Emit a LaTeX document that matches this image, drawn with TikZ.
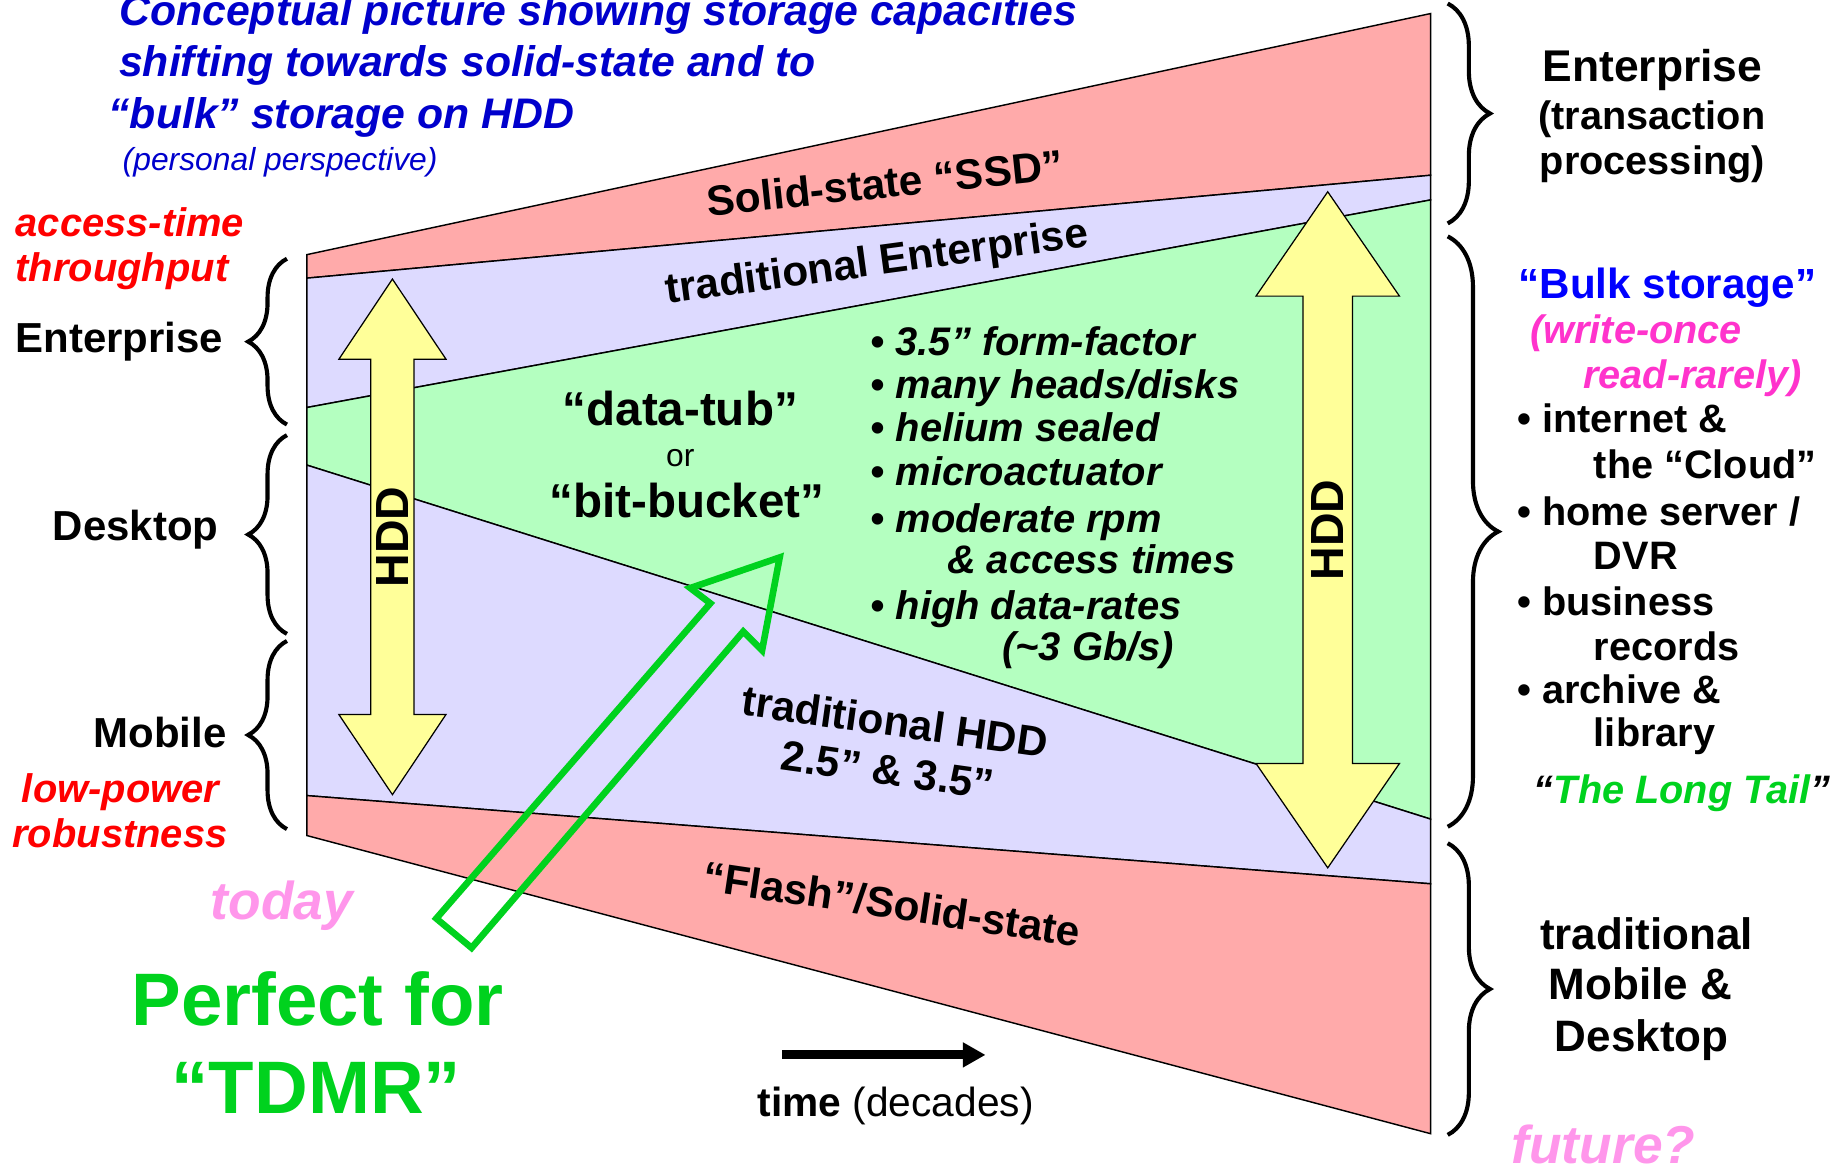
\documentclass[tikz,border=0pt]{standalone}
\usepackage{fontspec}
\setmainfont{Liberation Sans}
\usetikzlibrary{arrows.meta,decorations.pathreplacing,shapes.arrows}
\definecolor{ssdpink}{RGB}{255,170,170}
\definecolor{hddlav}{RGB}{221,218,255}
\definecolor{tubgreen}{RGB}{180,255,192}
\definecolor{hddyellow}{RGB}{255,255,153}
\definecolor{titleblue}{RGB}{0,0,204}
\definecolor{bulkblue}{RGB}{0,0,255}
\definecolor{hotred}{RGB}{255,0,0}
\definecolor{rarepink}{RGB}{255,51,204}
\definecolor{softpink}{RGB}{255,150,235}
\definecolor{tdmrgreen}{RGB}{0,210,30}
\newcommand{\fsz}[1]{\fontsize{#1}{#1}\selectfont}
\tikzset{
  band/.style={draw=black,line width=0.7pt},
  curly/.style={decorate,decoration={brace,amplitude=#1},line width=2pt},
  txt/.style={anchor=base,inner sep=0pt},
  titletxt/.style={txt,anchor=base west,text=titleblue,font=\fsz{20.7}\bfseries\itshape},
  redtxt/.style={txt,text=hotred,font=\fsz{19.3}\bfseries\itshape},
  segtxt/.style={txt,anchor=base east,font=\fsz{20.3}\bfseries},
  bandtxt/.style={txt,font=\fsz{20.5}\bfseries},
  tubtxt/.style={txt,font=\fsz{23}\bfseries},
  featuretxt/.style={txt,anchor=base west,font=\fsz{19.3}\bfseries\itshape},
  sidetxt/.style={txt,anchor=base west,font=\fsz{19.2}\bfseries},
  pinktxt/.style={txt,anchor=base west,text=softpink,font=\fsz{25.8}\bfseries\itshape},
  tdmrtxt/.style={txt,text=tdmrgreen,font=\fsz{36}\bfseries},
  hddarrow/.style={double arrow,draw=black,line width=0.6pt,fill=hddyellow,
    inner sep=1pt,font=\fsz{22.5}\bfseries},
  tdmrbox/.style={draw=tdmrgreen,line width=3.2pt,line join=miter},
  timearrow/.style={-{Triangle[length=11pt,width=11.5pt]},line width=4.4pt},
}
\begin{document}
\begin{tikzpicture}[x=0.02cm,y=-0.02cm]
\fill[white] (0,0) rectangle (1568,991);
\useasboundingbox (0,0) rectangle (1568,991);

% the storage bands, left edge = today, right edge = future
\coordinate (lt) at (261,216.5);
\coordinate (l1) at (261,236.5);
\coordinate (l2) at (261,346.5);
\coordinate (l3) at (261,395.5);
\coordinate (l4) at (261,676.5);
\coordinate (lb) at (261,710.5);
\coordinate (rt) at (1216.5,11.5);
\coordinate (r1) at (1216.5,149);
\coordinate (r2) at (1216.5,170);
\coordinate (r3) at (1216.5,696.5);
\coordinate (r4) at (1216.5,751.5);
\coordinate (rb) at (1216.5,964);
\foreach \a/\b/\c/\d/\col in {lt/rt/r1/l1/ssdpink,l1/r1/r2/l2/hddlav,l2/r2/r3/l3/tubgreen,l3/r3/r4/l4/hddlav,l4/r4/rb/lb/ssdpink}
  \filldraw[band,fill=\col] (\a) -- (\b) -- (\c) -- (\d) -- cycle;

\foreach \x/\ya/\yb/\amp in {244/361/220/0.66cm,244/539/370/0.66cm,244/705/545/0.66cm,1231/3/190/0.72cm,1231/201/703/0.86cm,1231/717/965/0.72cm}
  \draw[curly=\amp] (\x,\ya) -- (\x,\yb);

\node[hddarrow,minimum height=8.77cm,minimum width=1.82cm,double arrow head extend=0.47cm,
  double arrow tip angle=67.5,rotate=90] (hddL) at (333.7,456.5) {HDD};
\node[hddarrow,minimum height=11.5cm,minimum width=2.44cm,double arrow head extend=0.6cm,
  double arrow tip angle=69,rotate=90] (hddR) at (1129,450.5) {HDD};

\draw[tdmrbox] (371,781) -- (604,513) -- (587,500) -- (663,474) -- (648,553) -- (632,537) -- (401,806) -- cycle;

% headline
\foreach \x/\y/\t [count=\i] in {101/22/{Conceptual picture showing storage capacities},101/65/{shifting towards solid-state and to},92/109/{“bulk” storage on HDD}}
  \node[titletxt] (title\i) at (\x,\y) {\t};
\node[txt,anchor=base west,text=titleblue,font=\fsz{15.4}\itshape] (persp) at (104,145) {(personal perspective)};

% left side
\node[redtxt,anchor=base west] (acc) at (13,201) {access-time};
\node[redtxt,anchor=base west] (thru) at (13,239) {throughput};
\node[segtxt] (entL) at (190,299.5) {Enterprise};
\node[segtxt] (desk) at (186,459.5) {Desktop};
\node[segtxt] (mob) at (193,636) {Mobile};
\node[redtxt] (lowp) at (102.5,682) {low-power};
\node[redtxt] (robust) at (102,721) {robustness};
\node[pinktxt] (today) at (179,782) {today};
\node[tdmrtxt] (perfect) at (270,872) {Perfect for};
\node[tdmrtxt] (tdmrname) at (269,947) {“TDMR”};

% inside the bands
\node[bandtxt,rotate=6] (ssd) at (754,168) {Solid-state “SSD”};
\node[bandtxt,rotate=7.7] (tradent) at (747,234) {traditional Enterprise};
\node[tubtxt] (tub) at (578.5,361.5) {“data-tub”};
\node[txt,font=\fsz{15.4}] (orlbl) at (578.5,396.5) {or};
\node[tubtxt] (bucket) at (584,440) {“bit-bucket”};
\foreach \x/\y/\t [count=\i] in {740/302.5/{• 3.5” form-factor},740/339/{• many heads/disks},740/375.5/{• helium sealed},740/413/{• microactuator},740/452.7/{• moderate rpm},805/488/{\& access times},740/526.4/{• high data-rates},852/561.5/{(\textasciitilde 3 Gb/s)}}
  \node[featuretxt] (feat\i) at (\x,\y) {\t};
\node[bandtxt,anchor=center,align=center,font=\fontsize{20.5}{23.6}\selectfont\bfseries,rotate=-8] (tradhdd) at (758,634) {traditional HDD\\2.5” \& 3.5”};
\node[bandtxt,rotate=-8.5] (flash) at (756.5,781) {“Flash”/Solid-state};

\coordinate (t0) at (665,897);
\coordinate (t1) at (838,897);
\draw[timearrow] (t0) -- (t1);
\node[txt,anchor=base west,font=\fsz{19.7}] (timelbl) at (644,949) {\textbf{time} (decades)};

% right side
\node[txt,font=\fsz{21.5}\bfseries] (entR) at (1405,69.5) {Enterprise};
\node[txt,font=\fsz{19.2}\bfseries] (trans) at (1404.5,110) {(transaction};
\node[txt,font=\fsz{19.2}\bfseries] (proc) at (1405,148) {processing)};
\node[sidetxt,text=bulkblue,font=\fsz{20.4}\bfseries] (bulk) at (1291,253.5) {“Bulk storage”};
\node[sidetxt,text=rarepink,font=\fsz{19.2}\bfseries\itshape] (rare1) at (1301,292.4) {(write-once};
\node[sidetxt,text=rarepink,font=\fsz{19.2}\bfseries\itshape] (rare2) at (1346,330) {read-rarely)};
\foreach \x/\y/\t [count=\i] in {1290/368/{• internet \&},1355/406.8/{the “Cloud”},1290/447/{• home server /},1355/484/{DVR},1290/523.5/{• business},1355/561.5/{records},1290/598/{• archive \&},1355/634.5/{library}}
  \node[sidetxt] (use\i) at (\x,\y) {\t};
\node[sidetxt,font=\fsz{19.2}\bfseries\itshape] (tail) at (1304,683.5) {“\textcolor{tdmrgreen}{The Long Tail}”};
\node[txt,font=\fsz{21.3}\bfseries] (trad) at (1400,807.5) {traditional};
\node[txt,font=\fsz{21.3}\bfseries] (mobdesk) at (1395,849.6) {Mobile \&};
\node[txt,font=\fsz{21.3}\bfseries] (deskR) at (1396,894.2) {Desktop};
\node[pinktxt] (future) at (1285,989) {future?};
\end{tikzpicture}
\end{document}
